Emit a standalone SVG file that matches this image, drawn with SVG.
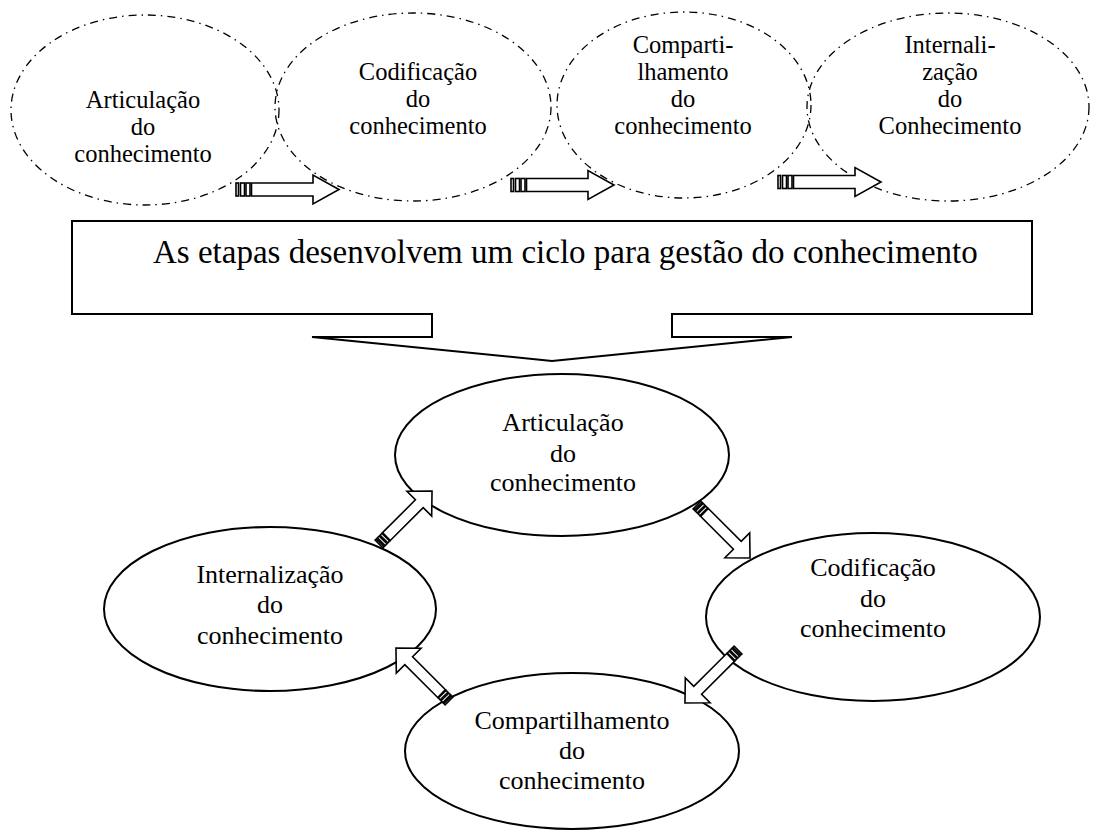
<svg xmlns="http://www.w3.org/2000/svg" width="1099" height="834" viewBox="0 0 1099 834">
<defs>
<style>
.dd{fill:none;stroke:#000;stroke-width:1.3;stroke-dasharray:8 5 1.5 5}
.el{fill:#fff;stroke:#000;stroke-width:2}
.ar{fill:#fff;stroke:#000;stroke-width:1.6;stroke-linejoin:miter}
.t{font-family:"Liberation Serif","Times New Roman",serif;fill:#000;text-anchor:middle}
.ts{font-size:24.5px}
.tb{font-size:26px}
.tc{font-size:33px;text-anchor:start}
</style>
<g id="topArrow">
<rect class="ar" x="0" y="-6.5" width="2.5" height="13"/>
<rect class="ar" x="4.5" y="-6.5" width="4" height="13"/>
<rect class="ar" x="10" y="-6.5" width="4" height="13"/>
<path class="ar" d="M15.5,-6.5 H77 V-14.5 L103,0 L77,14.5 V6.5 H15.5 Z"/>
</g>
<g id="botArrow">
<rect class="ar" x="0" y="-5.5" width="1.8" height="11"/>
<rect class="ar" x="3.2" y="-5.5" width="2.6" height="11"/>
<rect class="ar" x="7" y="-5.5" width="2.6" height="11"/>
<path class="ar" d="M10.5,-5.5 H57 V-17.5 L75,0 L57,17.5 V5.5 H10.5 Z"/>
</g>
</defs>
<rect width="1099" height="834" fill="#fff"/>

<g id="top-articulacao">
<ellipse class="dd" cx="145" cy="110" rx="134" ry="95"/>
<text class="t ts" x="143" y="108">Articulação</text>
<text class="t ts" x="143" y="135">do</text>
<text class="t ts" x="143" y="162">conhecimento</text>
</g>
<g id="top-codificacao">
<ellipse class="dd" cx="413" cy="107" rx="138" ry="94"/>
<text class="t ts" x="418" y="80">Codificação</text>
<text class="t ts" x="418" y="107">do</text>
<text class="t ts" x="418" y="134">conhecimento</text>
</g>
<g id="top-compartilhamento">
<ellipse class="dd" cx="684" cy="105" rx="127" ry="93"/>
<text class="t ts" x="683" y="53">Comparti-</text>
<text class="t ts" x="683" y="80">lhamento</text>
<text class="t ts" x="683" y="107">do</text>
<text class="t ts" x="683" y="134">conhecimento</text>
</g>
<g id="top-internalizacao">
<ellipse class="dd" cx="948" cy="107" rx="141" ry="94"/>
<text class="t ts" x="950" y="53">Internali-</text>
<text class="t ts" x="950" y="80">zação</text>
<text class="t ts" x="950" y="107">do</text>
<text class="t ts" x="950" y="134">Conhecimento</text>
</g>

<g id="banner">
<path d="M72,221 H1032 V314 H672 V337 H792 L552,361 L312,337 H432 V314 H72 Z" fill="#fff" stroke="#000" stroke-width="2"/>
<text class="t tc" x="153" y="263">As etapas desenvolvem um ciclo para gestão do conhecimento</text>
</g>

<g id="cycle-articulacao">
<ellipse class="el" cx="562" cy="455" rx="167" ry="81"/>
<text class="t tb" x="563" y="431">Articulação</text>
<text class="t tb" x="563" y="462">do</text>
<text class="t tb" x="563" y="491">conhecimento</text>
</g>
<g id="cycle-codificacao">
<ellipse class="el" cx="873" cy="617" rx="167" ry="84"/>
<text class="t tb" x="873" y="576">Codificação</text>
<text class="t tb" x="873" y="607">do</text>
<text class="t tb" x="873" y="637">conhecimento</text>
</g>
<g id="cycle-internalizacao">
<ellipse class="el" cx="270" cy="609" rx="166" ry="82"/>
<text class="t tb" x="270" y="583">Internalização</text>
<text class="t tb" x="270" y="613">do</text>
<text class="t tb" x="270" y="644">conhecimento</text>
</g>
<g id="cycle-compartilhamento">
<ellipse class="el" cx="572" cy="751" rx="167" ry="78"/>
<text class="t tb" x="572" y="729">Compartilhamento</text>
<text class="t tb" x="572" y="759">do</text>
<text class="t tb" x="572" y="789">conhecimento</text>
</g>

<g id="connectors">
<use href="#topArrow" transform="translate(236,189.5)"/>
<use href="#topArrow" transform="translate(511,185)"/>
<use href="#topArrow" transform="translate(778,182)"/>
<use href="#botArrow" transform="translate(379,544) rotate(-45)"/>
<use href="#botArrow" transform="translate(697,505) rotate(45)"/>
<use href="#botArrow" transform="translate(738,650) rotate(135)"/>
<use href="#botArrow" transform="translate(449,701) rotate(-135)"/>
</g>
</svg>
